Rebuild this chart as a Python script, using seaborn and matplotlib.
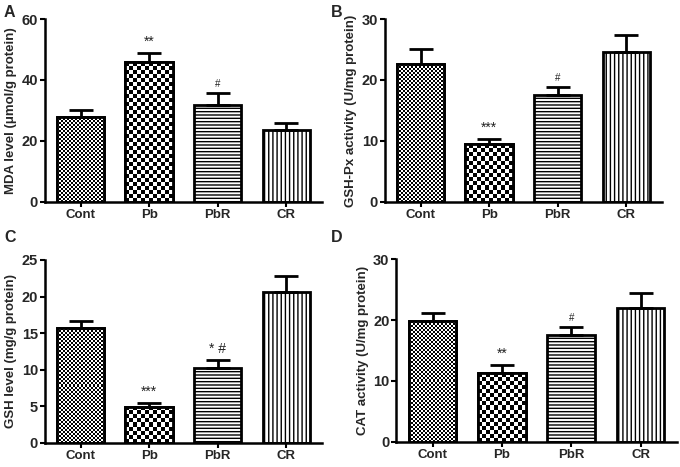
import numpy as np
import matplotlib
matplotlib.use("Agg")
import matplotlib.pyplot as plt
import seaborn as sns
from matplotlib.patches import Rectangle

# ---------------- data ----------------
groups = ["Cont", "Pb", "PbR", "CR"]

mda_mean = [27.9, 45.9, 31.7, 23.6]
mda_err = [2.3, 3.0, 3.9, 2.4]
mda_sig = ["", "**", "#", ""]

gpx_mean = [22.6, 9.45, 17.6, 24.6]
gpx_err = [2.5, 0.95, 1.3, 2.8]
gpx_sig = ["", "***", "#", ""]

gsh_mean = [15.65, 4.93, 10.2, 20.6]
gsh_err = [1.05, 0.45, 1.1, 2.2]
gsh_sig = ["", "***", "* #", ""]

cat_mean = [19.9, 11.25, 17.5, 22.05]
cat_err = [1.2, 1.35, 1.3, 2.35]
cat_sig = ["", "**", "#", ""]

panels = [
    ("A", "MDA level (\u03bcmol/g protein)", mda_mean, mda_err, mda_sig, 60, 20),
    ("B", "GSH-Px activity (U/mg protein)", gpx_mean, gpx_err, gpx_sig, 30, 10),
    ("C", "GSH level (mg/g protein)", gsh_mean, gsh_err, gsh_sig, 25, 5),
    ("D", "CAT activity (U/mg protein)", cat_mean, cat_err, cat_sig, 30, 10),
]

# ---------------- style ----------------
sns.set_theme(style="ticks")
plt.rcParams["font.family"] = ["Liberation Sans", "DejaVu Sans"]
plt.rcParams["hatch.linewidth"] = 1.0
plt.rcParams["hatch.color"] = "black"

fig = plt.figure(figsize=(6.8, 4.67), dpi=100)

axes_pos = [
    [0.066, 0.5675, 0.4075, 0.3918],
    [0.566, 0.5675, 0.4075, 0.3918],
    [0.066, 0.052, 0.4075, 0.3913],
    [0.583, 0.0542, 0.412, 0.3906],
]
letter_pos = [(0.006, 0.974), (0.487, 0.974), (0.006, 0.492), (0.487, 0.492)]

hatches = [None, None, "-----", "||||"]
checker_cells = {0: 2.0, 1: 4.0}


def checker_fill(ax, patch, cell_px):
    x0, y0 = patch.get_x(), patch.get_y()
    w, h = patch.get_width(), patch.get_height()
    p0 = ax.transData.transform((x0, y0))
    p1 = ax.transData.transform((x0 + w, y0 + h))
    nx = max(1, int(round(abs(p1[0] - p0[0]) / cell_px)))
    ny = max(1, int(round(abs(p1[1] - p0[1]) / cell_px)))
    arr = np.add.outer(np.arange(ny), np.arange(nx)) % 2
    im = ax.imshow(arr, cmap="gray", vmin=0, vmax=1,
                   extent=(x0, x0 + w, y0, y0 + h), origin="lower",
                   interpolation="nearest", aspect="auto", zorder=1.5)
    im.set_clip_path(patch)
    ax.add_patch(Rectangle((x0, y0), w, h, fill=False, edgecolor="black",
                           linewidth=2.0, zorder=1.6))


for i, (letter, ylabel, means, errs, sigs, ymax, ystep) in enumerate(panels):
    ax = fig.add_axes(axes_pos[i])
    sns.barplot(x=groups, y=means, ax=ax, color="white", width=0.69,
                edgecolor="black", linewidth=2.0, errorbar=None, zorder=1)
    ax.set_xlim(-0.52, 3.52)
    ax.set_ylim(0, ymax)
    for j, p in enumerate(ax.patches):
        p.set_facecolor("white")
        p.set_edgecolor("black")
        if hatches[j]:
            p.set_hatch(hatches[j])
    bars = list(ax.patches)
    for j in (0, 1):
        checker_fill(ax, bars[j], checker_cells[j])
    ax.set_xlim(-0.52, 3.52)
    ax.set_ylim(0, ymax)

    xs = np.arange(len(groups))
    ax.errorbar(xs, means, yerr=[np.zeros(len(means)), errs], fmt="none",
                ecolor="black", elinewidth=2.0, capsize=8.3, capthick=2.0,
                zorder=3)
    for j, s in enumerate(sigs):
        if s:
            fs = 10 if "*" in s else 7
            ax.annotate(s, (xs[j], means[j] + errs[j]), xytext=(0, 3),
                        textcoords="offset points", ha="center", va="bottom",
                        fontsize=fs, color="#222222")

    ax.set_yticks(np.arange(0, ymax + 0.1, ystep))
    ax.set_ylabel(ylabel, fontsize=9.5, fontweight="bold", labelpad=3)
    ax.set_xlabel("")
    for sp in ["top", "right"]:
        ax.spines[sp].set_visible(False)
    for sp in ["left", "bottom"]:
        ax.spines[sp].set_linewidth(1.8)
        ax.spines[sp].set_color("black")
    ax.tick_params(axis="both", width=1.5, length=3.5, color="black", pad=1.5)
    ax.tick_params(axis="x", labelsize=9.5)
    ax.tick_params(axis="y", labelsize=10.5)
    for lab in ax.get_xticklabels() + ax.get_yticklabels():
        lab.set_fontweight("bold")
    ax.set_facecolor("white")
    fig.text(letter_pos[i][0], letter_pos[i][1], letter, fontsize=11.5,
             fontweight="bold", ha="left", va="center")

fig.savefig("out.png", dpi=100, facecolor="white")
